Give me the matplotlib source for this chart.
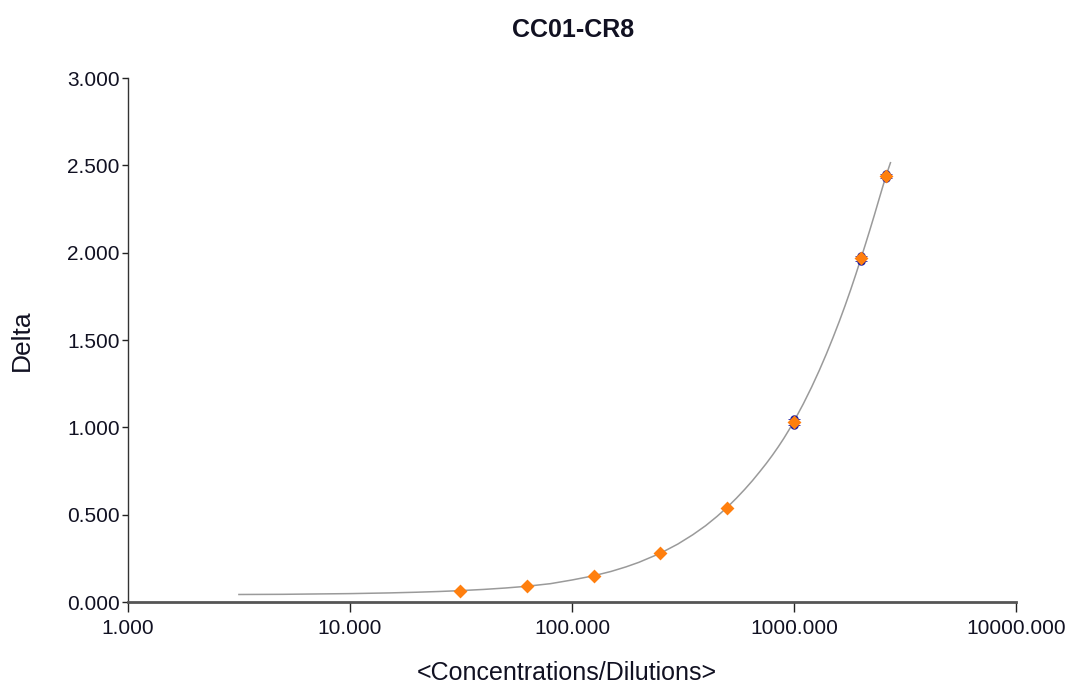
import numpy as np
import matplotlib
matplotlib.use("Agg")
import matplotlib.pyplot as plt

# standards (dilution level) and measured deltas, two replicates each
conc = [31.25, 62.5, 125, 250, 500, 1000, 2000, 2600]
rep1 = [0.065, 0.089, 0.149, 0.278, 0.541, 1.050, 1.982, 2.450]
rep2 = [0.065, 0.089, 0.149, 0.278, 0.541, 1.015, 1.955, 2.425]
mean = [0.065, 0.089, 0.149, 0.278, 0.541, 1.032, 1.967, 2.437]

# fitted curve
curve_x = [3.16, 5, 7, 10, 15, 20, 25, 31.25, 40, 50, 62.5, 80, 100, 125,
           150, 175, 200, 250, 300, 350, 400, 450, 500, 550, 600, 650, 700,
           750, 800, 850, 900, 950, 1000, 1100, 1200, 1300, 1400, 1500, 1600,
           1700, 1800, 1900, 2000, 2100, 2200, 2300, 2400, 2500, 2600, 2720]
curve_y = [0.043, 0.044, 0.046, 0.048, 0.052, 0.056, 0.060, 0.065, 0.072,
           0.080, 0.090, 0.105, 0.126, 0.150, 0.175, 0.201, 0.227, 0.279,
           0.332, 0.385, 0.437, 0.490, 0.542, 0.594, 0.645, 0.695, 0.745,
           0.793, 0.841, 0.889, 0.937, 0.986, 1.035, 1.133, 1.230, 1.326,
           1.421, 1.515, 1.607, 1.698, 1.788, 1.877, 1.965, 2.050, 2.133,
           2.214, 2.294, 2.370, 2.442, 2.515]

xticks = [1, 10, 100, 1000, 10000]
xtick_labels = ["1.000", "10.000", "100.000", "1000.000", "10000.000"]
yticks = [0, 0.5, 1.0, 1.5, 2.0, 2.5, 3.0]
ytick_labels = ["0.000", "0.500", "1.000", "1.500", "2.000", "2.500", "3.000"]

plt.rcParams["font.family"] = ["Liberation Sans", "DejaVu Sans"]
txt = "#111122"

fig = plt.figure(figsize=(10.7, 6.86), dpi=100)
ax = fig.add_axes([128 / 1070, 84 / 686, 888 / 1070, 524 / 686])

ax.plot(curve_x, curve_y, color="#9a9a9a", lw=1.1, zorder=2,
        solid_joinstyle="round")

yerr = [np.array(mean) - np.array(rep2), np.array(rep1) - np.array(mean)]
ax.errorbar(conc, mean, yerr=yerr, fmt="none", ecolor="#3a3ab0",
            elinewidth=0.8, capsize=4, capthick=0.7, zorder=3)
ax.scatter(conc, rep1, s=26, marker="o", color="#1a1aa0", zorder=3)
ax.scatter(conc, rep2, s=26, marker="o", color="#1a1aa0", zorder=3)
ax.scatter(conc, mean, s=50, marker="D", color="#ff7f0e", zorder=4,
           linewidths=0)

ax.set_xscale("log")
ax.set_xlim(1, 10000)
ax.set_ylim(0, 3.0)
ax.set_xticks(xticks)
ax.set_xticklabels(xtick_labels)
ax.set_yticks(yticks)
ax.set_yticklabels(ytick_labels)
ax.xaxis.set_minor_locator(matplotlib.ticker.NullLocator())

for s in ["top", "right"]:
    ax.spines[s].set_visible(False)
ax.spines["left"].set_color("#333333")
ax.spines["left"].set_linewidth(1.0)
ax.spines["bottom"].set_color("#555555")
ax.spines["bottom"].set_linewidth(2.0)

ax.tick_params(axis="x", direction="out", length=7, width=1.0, color="#222222",
               pad=5, labelsize=15, labelcolor=txt)
ax.tick_params(axis="y", direction="out", length=4, width=1.0, color="#222222",
               pad=2, labelsize=15, labelcolor=txt)

fig.text(573 / 1070, 1 - 30 / 686, "CC01-CR8", ha="center", va="center",
         fontsize=18, fontweight="bold", color=txt)
fig.text(22 / 1070, 1 - 340 / 686, "Delta", ha="center", va="center",
         rotation=90, fontsize=19, color=txt)
fig.text(567 / 1070, 1 - 673 / 686, "<Concentrations/Dilutions>", ha="center",
         va="center", fontsize=18, color=txt)

fig.savefig("out.png", dpi=100)
